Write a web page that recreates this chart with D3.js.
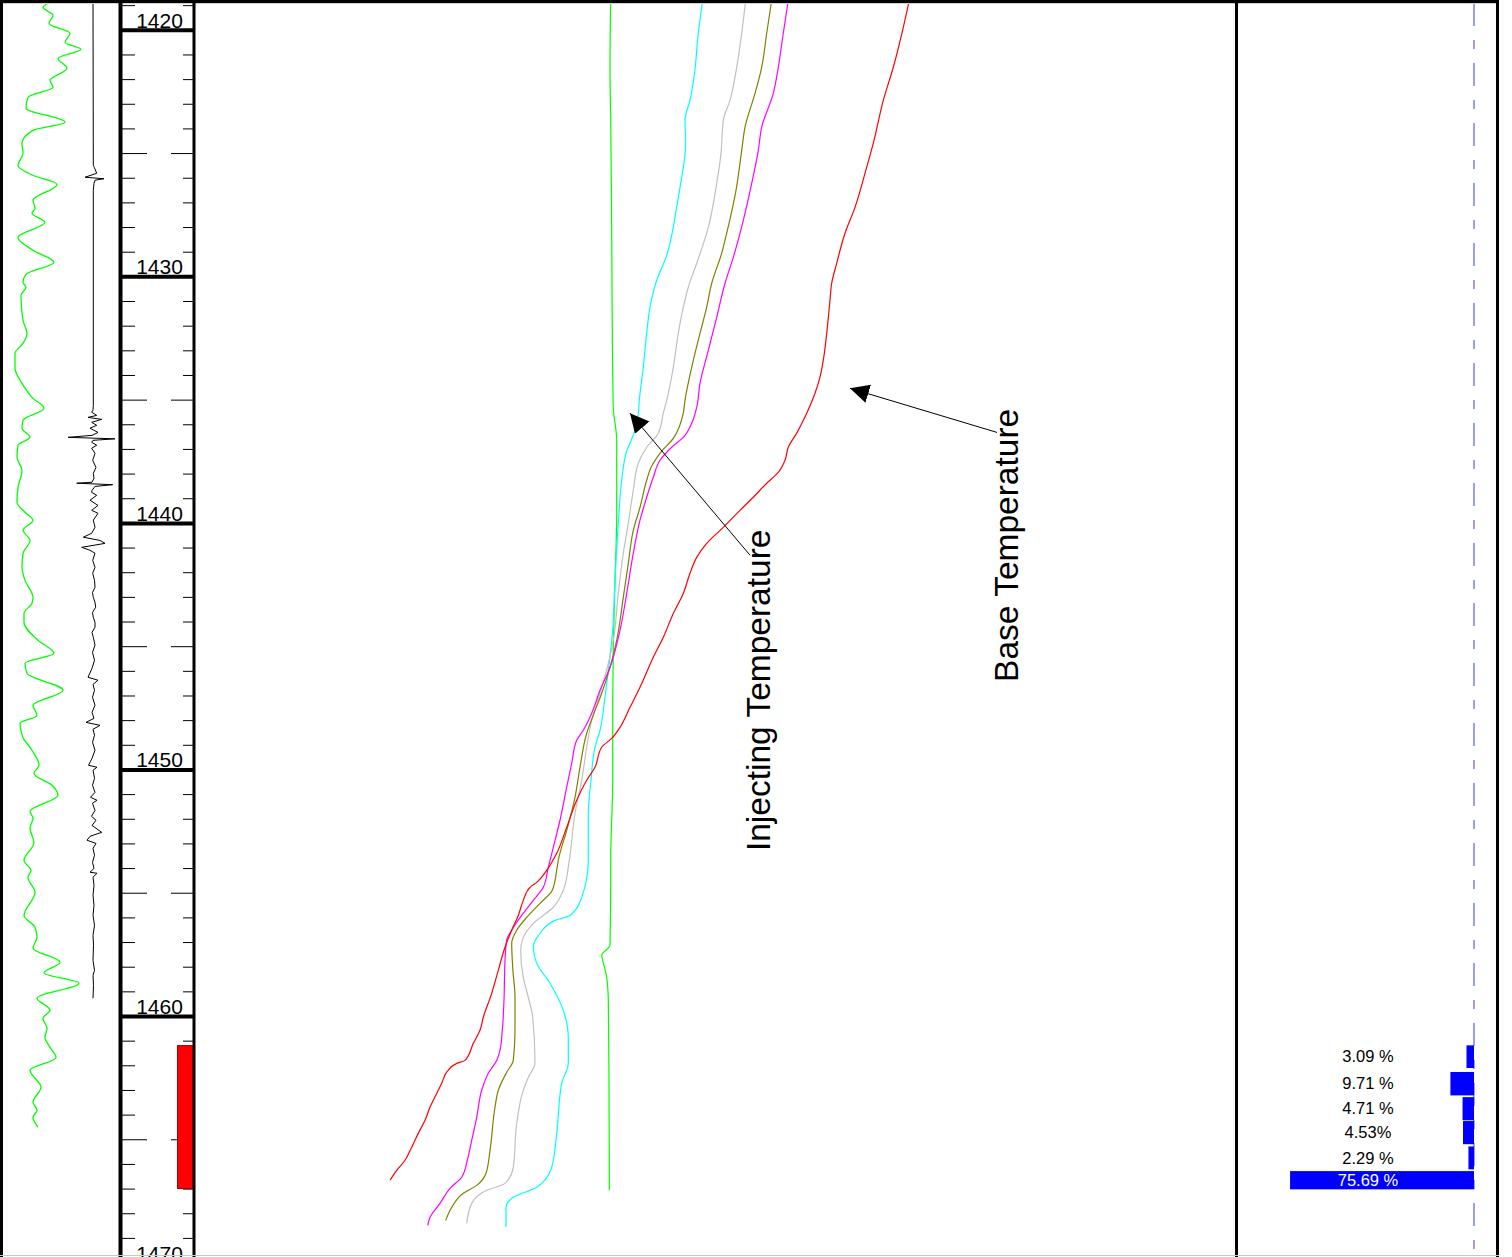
<!DOCTYPE html>
<html>
<head>
<meta charset="utf-8">
<script src="https://cdn.jsdelivr.net/npm/d3@7"></script>
<style>
  html, body { margin: 0; padding: 0; background: #fff; }
  svg { display: block; }
  text { font-family: "Liberation Sans", Arial, Helvetica, sans-serif; }
</style>
</head>
<body>
<svg id="chart" width="1512" height="1257"></svg>
<script>
// ---------------- data ----------------
// depth labels (m) on the depth track
const depthLabels = [1420, 1430, 1440, 1450, 1460, 1470];

// gamma ray log: [depth m, API]
const gammaRay = [
  [1418.78,51],[1419.07,39],[1419.39,49],[1419.72,45],[1420.12,66],[1420.49,61],[1420.77,77],[1421.14,54],
  [1421.54,63],[1422.03,46],[1422.31,49],[1422.72,24],[1423.16,22],[1423.73,61],[1424.06,29],[1424.58,18],
  [1424.99,19],[1425.48,14],[1425.88,29],[1426.25,53],[1426.90,29],[1427.22,31],[1427.42,28],[1427.79,41],
  [1428.40,14],[1428.92,29],[1429.41,50],[1429.90,22],[1430.22,19],[1430.42,22],[1430.75,17],[1431.76,19],
  [1432.29,23],[1432.70,19],[1433.10,11],[1433.71,11],[1434.32,18],[1434.93,29],[1435.33,40],[1435.82,19],
  [1436.14,18],[1436.51,26],[1436.83,14],[1437.32,13],[1437.85,18],[1438.54,14],[1439.14,13],[1439.55,21],
  [1439.87,29],[1440.28,19],[1440.69,26],[1441.22,19],[1441.78,18],[1442.31,21],[1443.00,29],[1443.24,28],
  [1443.65,20],[1444.01,20],[1444.74,34],[1445.27,50],[1445.67,21],[1446.08,23],[1446.77,59],[1447.38,29],
  [1447.79,33],[1448.11,16],[1448.68,19],[1449.20,28],[1449.81,35],[1450.14,30],[1450.62,48],[1451.03,54],
  [1451.68,26],[1451.96,29],[1452.37,26],[1452.94,30],[1453.67,20],[1454.07,27],[1454.36,24],[1454.96,31],
  [1455.90,20],[1456.38,31],[1456.79,33],[1457.23,29],[1457.80,56],[1458.24,40],[1458.65,75],[1459.26,33],
  [1459.74,46],[1460.07,39],[1460.48,43],[1460.84,41],[1461.25,46],[1461.66,52],[1462.18,26],[1462.87,37],
  [1463.48,29],[1463.80,33],[1464.09,29],[1464.49,34]
];

// noise log amplitude: [depth m, amplitude]
const noiseLog = [
  [1418.78,0],[1425.48,0.3],[1425.56,1.3],[1425.80,3.7],[1425.96,-8],[1426.02,11],[1426.08,2],[1426.21,1],
  [1426.49,0.3],[1435.21,0.3],[1435.41,0],[1435.49,-1.3],[1435.62,3.7],[1435.70,-5],[1435.78,8.7],[1435.90,-1.3],
  [1436.02,3.7],[1436.14,-3],[1436.31,5],[1436.43,-1],[1436.51,-25],[1436.57,22],[1436.63,0],[1436.71,-1.3],
  [1436.83,3.7],[1436.95,-1.3],[1437.16,2],[1437.44,-0.3],[1437.73,3],[1437.97,0.3],[1438.17,1],[1438.33,-1],
  [1438.37,-16.3],[1438.43,19.7],[1438.50,2],[1438.66,-1],[1438.74,-1.3],[1438.86,3.7],[1439.06,-3],[1439.27,5],
  [1439.47,-1.3],[1439.59,5],[1439.87,0.3],[1440.16,2],[1440.40,-1.3],[1440.56,-9.7],[1440.69,7],[1440.81,12],
  [1440.97,-11.3],[1441.09,-3],[1441.21,2],[1441.50,-0.3],[1441.78,2],[1442.02,-0.3],[1442.31,1.5],[1442.59,2],
  [1442.80,-0.5],[1443.00,0.3],[1443.20,2],[1443.40,2.7],[1443.61,-0.5],[1443.81,0.3],[1444.01,2],[1444.21,2],
  [1444.42,-1],[1444.62,0.3],[1444.94,2],[1445.23,-0.5],[1445.55,1.5],[1445.88,-1],[1446.24,-5],[1446.36,5],
  [1446.53,0],[1446.77,1.5],[1447.05,-0.5],[1447.38,2],[1447.66,-1],[1447.91,1],[1448.07,-7],[1448.19,7],
  [1448.35,0],[1448.59,1.5],[1448.88,-0.5],[1449.20,2],[1449.53,-1],[1449.81,-4.5],[1449.89,4],[1450.01,0],
  [1450.34,1.5],[1450.62,-0.5],[1450.91,2],[1451.11,-2.5],[1451.23,4],[1451.35,-0.5],[1451.64,2],[1451.88,-1.5],
  [1452.04,3],[1452.25,-1],[1452.53,8.7],[1452.69,-3],[1452.85,-6],[1452.98,3],[1453.18,0],[1453.46,1.5],
  [1453.75,-0.5],[1453.99,1],[1454.15,-3],[1454.19,4],[1454.35,0],[1454.68,1],[1455.08,0],[1455.49,1],
  [1455.90,0],[1456.30,1.5],[1456.71,0],[1457.11,0.5],[1457.72,0],[1458.13,1.5],[1458.33,0],[1458.74,0.5],
  [1459.26,0]
];

// temperature logs: [depth m, temperature degC]
const injectingTemp = [
  [1418.78,46.293],[1421.62,46.30],[1423.53,46.293],[1428.23,46.283],[1432.29,46.277],[1435.29,46.267],
  [1436.63,46.233],[1439.59,46.233],[1442.31,46.25],[1445.02,46.267],[1447.70,46.273],[1450.42,46.273],
  [1453.66,46.293],[1454.60,46.293],[1457.11,46.30],[1457.52,46.383],[1457.72,46.373],[1458.41,46.333],
  [1459.34,46.317],[1462.71,46.31],[1467.05,46.307]
];
const warmback1 = [
  [1418.78,45.373],[1420.12,45.417],[1421.91,45.46],[1422.84,45.50],[1423.65,45.55],[1424.58,45.543],
  [1426.37,45.60],[1427.02,45.627],[1429.21,45.74],[1430.14,45.833],[1431.23,45.90],[1432.05,45.927],
  [1433.67,45.967],[1435.01,46.007],[1435.53,46.017],[1436.22,46.05],[1437.16,46.14],[1438.25,46.183],
  [1439.99,46.217],[1442.31,46.25],[1444.34,46.273],[1445.96,46.317],[1447.05,46.35],[1448.39,46.40],
  [1449.08,46.45],[1450.42,46.49],[1451.76,46.517],[1453.66,46.517],[1455.17,46.583],[1455.90,46.70],
  [1456.10,46.85],[1456.63,47.00],[1457.19,47.067],[1457.84,47.033],[1458.65,46.90],[1459.75,46.767],
  [1460.84,46.717],[1461.90,46.717],[1462.71,46.783],[1464.74,46.833],[1466.12,46.883],[1466.93,47.033],
  [1467.33,47.267],[1467.74,47.34],[1468.55,47.34]
];
const warmback2 = [
  [1418.78,44.943],[1420.12,44.983],[1421.50,45.033],[1422.84,45.10],[1423.65,45.167],[1424.99,45.19],
  [1426.21,45.233],[1427.99,45.317],[1429.45,45.433],[1430.42,45.517],[1431.23,45.567],[1432.29,45.617],
  [1433.67,45.667],[1435.01,45.733],[1435.53,45.767],[1436.34,45.817],[1436.91,45.933],[1437.56,46.017],
  [1438.66,46.067],[1439.99,46.117],[1441.21,46.167],[1442.84,46.217],[1444.74,46.267],[1445.84,46.327],
  [1446.89,46.40],[1447.99,46.483],[1449.08,46.533],[1450.42,46.583],[1451.76,46.65],[1453.66,46.707],
  [1454.88,46.767],[1455.57,46.867],[1456.22,47.067],[1456.79,47.167],[1457.32,47.193],[1458.41,47.167],
  [1459.22,47.117],[1460.03,47.073],[1461.90,47.05],[1462.47,47.117],[1462.99,47.167],[1464.33,47.233],
  [1466.12,47.267],[1466.77,47.35],[1467.05,47.533],[1467.58,47.683],[1468.39,47.733]
];
const warmback3 = [
  [1418.78,44.683],[1420.12,44.733],[1421.50,44.783],[1422.56,44.85],[1423.93,44.95],[1424.87,44.983],
  [1426.49,45.04],[1428.23,45.133],[1429.04,45.183],[1430.26,45.283],[1431.23,45.333],[1432.29,45.40],
  [1433.67,45.483],[1435.01,45.55],[1435.53,45.567],[1436.51,45.66],[1437.16,45.80],[1437.73,45.89],
  [1438.25,45.933],[1439.35,46.00],[1440.28,46.067],[1441.62,46.117],[1443.00,46.167],[1444.74,46.233],
  [1445.84,46.30],[1446.89,46.383],[1447.70,46.46],[1448.51,46.533],[1449.89,46.60],[1451.11,46.65],
  [1452.45,46.733],[1453.66,46.817],[1454.07,46.833],[1454.88,46.877],[1455.41,47.00],[1455.98,47.133],
  [1456.50,47.233],[1457.03,47.283],[1458.01,47.273],[1459.22,47.25],[1460.56,47.25],[1461.78,47.267],
  [1462.26,47.333],[1462.99,47.417],[1463.68,47.45],[1465.43,47.50],[1466.36,47.54],[1466.85,47.633],
  [1467.17,47.767],[1467.74,47.883],[1468.27,47.943]
];
const warmback4 = [
  [1418.78,44.517],[1420.12,44.567],[1421.50,44.617],[1422.56,44.667],[1423.93,44.783],[1424.87,44.817],
  [1426.21,44.883],[1427.71,44.967],[1429.21,45.067],[1430.26,45.15],[1431.64,45.233],[1432.98,45.317],
  [1434.32,45.40],[1435.29,45.433],[1435.94,45.483],[1436.51,45.567],[1436.91,45.683],[1437.44,45.80],
  [1438.13,45.867],[1438.94,45.933],[1439.87,46.00],[1441.21,46.067],[1442.84,46.133],[1444.34,46.20],
  [1445.84,46.30],[1446.77,46.40],[1447.70,46.483],[1448.39,46.567],[1448.80,46.633],[1449.73,46.683],
  [1450.70,46.733],[1452.04,46.80],[1453.14,46.867],[1453.95,46.917],[1454.76,46.967],[1455.29,47.067],
  [1455.81,47.167],[1456.50,47.283],[1456.91,47.333],[1457.72,47.35],[1459.34,47.36],[1460.56,47.377],
  [1461.37,47.40],[1461.78,47.433],[1462.30,47.517],[1462.99,47.583],[1464.09,47.633],[1465.02,47.683],
  [1465.83,47.727],[1466.52,47.783],[1466.97,47.90],[1467.58,48.00],[1468.15,48.10],[1468.47,48.123]
];
const baseTemp = [
  [1418.78,43.307],[1419.88,43.367],[1421.50,43.467],[1422.84,43.567],[1424.58,43.667],[1425.80,43.75],
  [1427.18,43.85],[1428.23,43.95],[1429.45,44.033],[1430.26,44.083],[1430.95,44.10],[1432.29,44.133],
  [1433.38,44.167],[1434.07,44.20],[1434.72,44.25],[1435.53,44.333],[1436.34,44.433],[1436.91,44.517],
  [1437.44,44.55],[1437.93,44.617],[1438.37,44.733],[1438.94,44.867],[1439.47,45.00],[1440.16,45.167],
  [1440.81,45.333],[1441.38,45.433],[1442.02,45.50],[1442.84,45.567],[1443.65,45.667],[1444.62,45.767],
  [1445.43,45.867],[1446.65,46.00],[1447.46,46.10],[1448.27,46.20],[1448.72,46.283],[1449.08,46.383],
  [1449.89,46.45],[1450.42,46.533],[1451.23,46.633],[1452.33,46.733],[1453.38,46.833],[1454.07,46.933],
  [1454.56,47.033],[1454.76,47.10],[1455.29,47.167],[1455.90,47.217],[1456.50,47.283],[1457.19,47.35],
  [1458.13,47.417],[1459.06,47.483],[1460.03,47.567],[1460.56,47.60],[1461.09,47.667],[1461.78,47.75],
  [1461.90,47.833],[1462.26,47.933],[1462.71,47.983],[1463.12,48.033],[1463.68,48.10],[1464.21,48.15],
  [1464.74,48.217],[1465.30,48.283],[1465.83,48.35],[1466.24,48.433],[1466.64,48.50]
];

// perforated interval (m)
const perforation = [1461.18, 1466.98];

// injection profile per zone
const zoneTops    = [1461.17, 1462.25, 1463.27, 1464.24, 1465.27, 1466.27];
const zoneBottoms = [1462.09, 1463.20, 1464.21, 1465.18, 1466.20, 1467.01];
const zonePercent = [3.09, 9.71, 4.71, 4.53, 2.29, 75.69];
const zoneLabels  = ["3.09 %", "9.71 %", "4.71 %", "4.53%", "2.29 %", "75.69 %"];

// annotations on the temperature track (temperature degC, depth m)
const noteTexts  = ["Injecting Temperature", "Base Temperature"];
const noteTemps  = [44.70, 42.22];
const noteDepths = [1446.77, 1440.89];
const arrowFrom  = [[44.90, 1441.29], [42.43, 1436.31]];
const arrowTo    = [[46.10, 1435.53], [43.90, 1434.52]];

// ---------------- layout ----------------
const W = 1512, H = 1257;
const svg = d3.select("#chart");
svg.append("rect").attr("width", W).attr("height", H).attr("fill", "#fff");

const y      = d3.scaleLinear().domain([1420, 1460]).range([30.3, 1016.5]);
const xGR    = d3.scaleLinear().domain([0, 100]).range([4, 104]);
const xNoise = d3.scaleLinear().domain([-20, 20]).range([73, 113]);
const xTemp  = d3.scaleLinear().domain([40, 50]).range([1240, 240]);
const xFlow  = d3.scaleLinear().domain([0, 100]).range([1474, 1231]);

const depthTrack = [122, 194];

const defs = svg.append("defs");
defs.append("marker")
  .attr("id", "arrowhead")
  .attr("markerUnits", "userSpaceOnUse")
  .attr("viewBox", "0 -10 20 20")
  .attr("refX", 19).attr("refY", 0)
  .attr("markerWidth", 20).attr("markerHeight", 20)
  .attr("orient", "auto")
  .append("path").attr("d", "M0,-9.5L19,0L0,9.5Z").attr("fill", "#000");

// ---------------- track 1: gamma ray + noise ----------------
const grLine = d3.line().x(d => xGR(d[1])).y(d => y(d[0])).curve(d3.curveMonotoneY);
svg.append("path").datum(gammaRay).attr("d", grLine)
  .attr("fill", "none").attr("stroke", "#00ff00").attr("stroke-width", 1.3);

const noiseLine = d3.line().x(d => xNoise(d[1])).y(d => y(d[0])).curve(d3.curveLinear);
svg.append("path").datum(noiseLog).attr("d", noiseLine)
  .attr("fill", "none").attr("stroke", "#000").attr("stroke-width", 1);

// ---------------- depth track ----------------
const depthG = svg.append("g");
d3.range(1419, 1471).forEach(d => {
  const yy = y(d);
  if (d % 10 === 0) {
    depthG.append("line").attr("x1", depthTrack[0] - 2).attr("x2", depthTrack[1] + 1)
      .attr("y1", yy).attr("y2", yy).attr("stroke", "#000").attr("stroke-width", 4);
  } else if (d % 5 === 0) {
    depthG.append("line").attr("x1", 120).attr("x2", 147).attr("y1", yy).attr("y2", yy)
      .attr("stroke", "#000").attr("stroke-width", 1);
    depthG.append("line").attr("x1", 171).attr("x2", 194).attr("y1", yy).attr("y2", yy)
      .attr("stroke", "#000").attr("stroke-width", 1);
  } else {
    depthG.append("line").attr("x1", 120).attr("x2", 135).attr("y1", yy).attr("y2", yy)
      .attr("stroke", "#000").attr("stroke-width", 1);
    depthG.append("line").attr("x1", 183).attr("x2", 194).attr("y1", yy).attr("y2", yy)
      .attr("stroke", "#000").attr("stroke-width", 1);
  }
});
depthG.selectAll("text.depth").data(depthLabels).join("text")
  .attr("class", "depth")
  .attr("x", 159.5).attr("y", d => y(d) - 2.5)
  .attr("text-anchor", "middle").attr("font-size", 21).attr("fill", "#000")
  .text(d => d);

// perforations
svg.append("rect")
  .attr("x", 177.5).attr("width", 17)
  .attr("y", y(perforation[0])).attr("height", y(perforation[1]) - y(perforation[0]))
  .attr("fill", "#ff0000").attr("stroke", "#990000").attr("stroke-width", 1);

// ---------------- temperature track ----------------
const tempLine = d3.line().x(d => xTemp(d[1])).y(d => y(d[0])).curve(d3.curveMonotoneY);
const tempSeries = [
  { data: injectingTemp, color: "#00ff00" },
  { data: warmback1, color: "#00ffff" },
  { data: warmback2, color: "#c0c0c0" },
  { data: warmback3, color: "#808000" },
  { data: warmback4, color: "#ff00ff" },
  { data: baseTemp, color: "#ff0000" }
];
svg.append("g").selectAll("path").data(tempSeries).join("path")
  .attr("d", s => tempLine(s.data))
  .attr("fill", "none").attr("stroke", s => s.color).attr("stroke-width", 1.2);

// annotation arrows
svg.append("g").selectAll("line").data(d3.range(arrowFrom.length)).join("line")
  .attr("x1", i => xTemp(arrowFrom[i][0])).attr("y1", i => y(arrowFrom[i][1]))
  .attr("x2", i => xTemp(arrowTo[i][0])).attr("y2", i => y(arrowTo[i][1]))
  .attr("stroke", "#000").attr("stroke-width", 1)
  .attr("marker-end", "url(#arrowhead)");

// annotation labels
svg.append("g").selectAll("text").data(d3.range(noteTexts.length)).join("text")
  .attr("transform", i => `translate(${xTemp(noteTemps[i])},${y(noteDepths[i])}) rotate(-90)`)
  .attr("text-anchor", "middle").attr("font-size", 33.5).attr("fill", "#000")
  .text(i => noteTexts[i]);

// ---------------- flow profile track ----------------
svg.append("line")
  .attr("x1", xFlow(0)).attr("x2", xFlow(0)).attr("y1", 3).attr("y2", H)
  .attr("stroke", "#3b3bff").attr("stroke-width", 1)
  .attr("stroke-dasharray", "23,14,9,14");

const flowG = svg.append("g");
flowG.selectAll("rect").data(d3.range(zonePercent.length)).join("rect")
  .attr("x", i => xFlow(zonePercent[i]))
  .attr("width", i => xFlow(0) - xFlow(zonePercent[i]))
  .attr("y", i => y(zoneTops[i]))
  .attr("height", i => y(zoneBottoms[i]) - y(zoneTops[i]))
  .attr("fill", "#0000ff");
flowG.selectAll("text").data(d3.range(zonePercent.length)).join("text")
  .attr("x", 1368)
  .attr("y", i => (y(zoneTops[i]) + y(zoneBottoms[i])) / 2)
  .attr("dy", "0.35em")
  .attr("text-anchor", "middle").attr("font-size", 16.5)
  .attr("fill", i => (xFlow(zonePercent[i]) < 1340 ? "#fff" : "#000"))
  .text(i => zoneLabels[i]);

// ---------------- frame ----------------
const frame = svg.append("g").attr("stroke", "#000").attr("fill", "none");
frame.append("line").attr("x1", 0).attr("x2", 1499).attr("y1", 1.5).attr("y2", 1.5).attr("stroke-width", 3);
frame.append("line").attr("x1", 0).attr("x2", 1499).attr("y1", 3.5).attr("y2", 3.5)
  .attr("stroke", "#d0d0d0").attr("stroke-width", 1);
frame.append("line").attr("x1", 1.5).attr("x2", 1.5).attr("y1", 0).attr("y2", H).attr("stroke-width", 3);
frame.append("line").attr("x1", 120.5).attr("x2", 120.5).attr("y1", 0).attr("y2", H).attr("stroke-width", 4);
frame.append("line").attr("x1", 194).attr("x2", 194).attr("y1", 0).attr("y2", H).attr("stroke-width", 3);
frame.append("line").attr("x1", 1236.5).attr("x2", 1236.5).attr("y1", 0).attr("y2", H).attr("stroke-width", 3);
frame.append("line").attr("x1", 1497.5).attr("x2", 1497.5).attr("y1", 0).attr("y2", H).attr("stroke-width", 3);
frame.append("line").attr("x1", 0).attr("x2", 1499).attr("y1", 1255.5).attr("y2", 1255.5)
  .attr("stroke", "#c8c8c8").attr("stroke-width", 1);
</script>
</body>
</html>
